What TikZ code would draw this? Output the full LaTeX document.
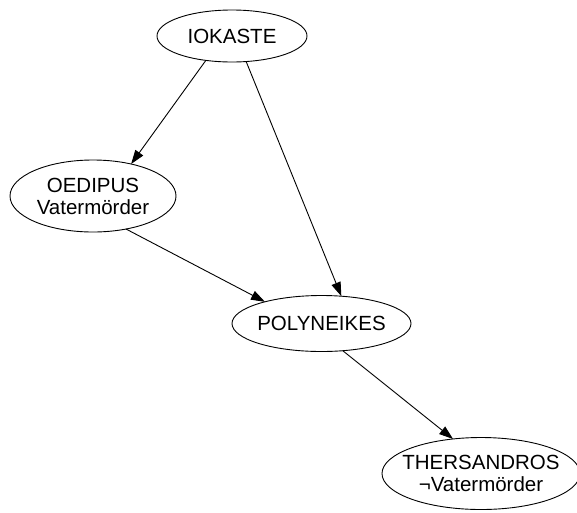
\documentclass[tikz,border=0pt]{standalone}
\usepackage{fontspec}
\setmainfont{Liberation Sans}
\usetikzlibrary{shapes.geometric,arrows.meta}
\begin{document}
\begin{tikzpicture}[x=1pt,y=-1pt,
  gnode/.style={ellipse, draw, line width=0.9pt, inner sep=0pt, outer sep=0pt},
  edge/.style={draw, line width=0.9pt, -{Triangle[length=14pt,width=9.5pt]}},
  txt/.style={font=\fontsize{20.5}{22}\selectfont, align=center, inner sep=0pt}
]
\useasboundingbox (0,0) rectangle (577,512);
\fill[white] (0,0) rectangle (577,512);
\node[gnode, minimum width=150pt, minimum height=52pt, label={[txt]center:IOKASTE}] (iok) at (232,36) {};
\node[gnode, minimum width=166pt, minimum height=72pt, label={[txt]center:{OEDIPUS\\Vatermörder}}] (oed) at (93,196) {};
\node[gnode, minimum width=179pt, minimum height=56pt, label={[txt]center:POLYNEIKES}] (poly) at (321.5,323.5) {};
\node[gnode, minimum width=198pt, minimum height=72pt, label={[txt]center:{THERSANDROS\\¬Vatermörder}}] (ther) at (481,473.5) {};
\draw[edge] (iok.223.8) -- (oed.40.2);
\draw[edge] (iok.299) -- (poly.54.3);
\draw[edge] (oed.315) -- (poly.159.2);
\draw[edge] (poly.308) -- (ther.129.9);
\end{tikzpicture}
\end{document}
